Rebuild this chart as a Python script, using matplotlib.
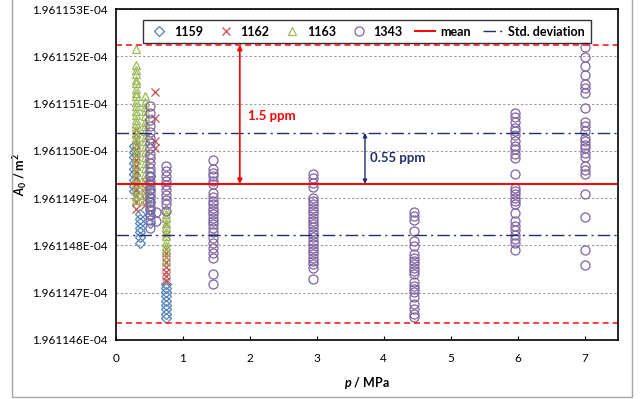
import numpy as np
import matplotlib
matplotlib.use("Agg")
import matplotlib.pyplot as plt
from matplotlib.ticker import FuncFormatter, FixedLocator, MultipleLocator
from matplotlib.patches import Rectangle

plt.rcParams['font.family'] = ['Lato', 'DejaVu Sans']
plt.rcParams['mathtext.fontset'] = 'custom'
plt.rcParams['mathtext.rm'] = 'Lato:bold'
plt.rcParams['mathtext.it'] = 'Lato:italic:bold'

# A0 values in units of 1e-4 m^2, grouped by pressure (MPa)
s1159 = [
    (0.27, [1.96115010, 1.96114998, 1.96114986, 1.96114974, 1.96114962, 1.96114950,
            1.96114938, 1.96114926, 1.96114915]),
    (0.36, [1.96114866, 1.96114856, 1.96114847, 1.96114837, 1.96114828, 1.96114818,
            1.96114805]),
    (0.51, [1.96114946, 1.96114932, 1.96114918, 1.96114905, 1.96114892, 1.96114878,
            1.96114864, 1.96114847]),
    (0.75, [1.96114719, 1.96114710, 1.96114701, 1.96114692, 1.96114683, 1.96114674,
            1.96114665, 1.96114656, 1.96114647]),
]
s1162 = [
    (0.30, [1.96115045, 1.96115035, 1.96115024, 1.96115013, 1.96115002, 1.96114990,
            1.96114980, 1.96114968, 1.96114955, 1.96114942, 1.96114930, 1.96114918,
            1.96114906, 1.96114892, 1.96114878]),
    (0.44, [1.96114935, 1.96114922, 1.96114910, 1.96114898, 1.96114885]),
    (0.59, [1.96115125, 1.96115070, 1.96115020, 1.96115005]),
    (0.75, [1.96114845, 1.96114822, 1.96114793, 1.96114784, 1.96114775, 1.96114764,
            1.96114755, 1.96114744, 1.96114735, 1.96114725]),
]
s1163 = [
    (0.30, [1.96115216, 1.96115182, 1.96115171, 1.96115163, 1.96115150, 1.96115144,
            1.96115131, 1.96115122, 1.96115115, 1.96115103, 1.96115095, 1.96115084,
            1.96115076, 1.96115065, 1.96115057, 1.96115046, 1.96115038, 1.96115027,
            1.96115019, 1.96115005, 1.96114996, 1.96114983, 1.96114971, 1.96114958,
            1.96114944, 1.96114931, 1.96114918, 1.96114905, 1.96114896]),
    (0.44, [1.96115115, 1.96115104, 1.96115093, 1.96115085, 1.96115074, 1.96115062,
            1.96115053, 1.96115041, 1.96115030, 1.96115021, 1.96115008, 1.96114997,
            1.96114986, 1.96114974, 1.96114963, 1.96114951, 1.96114940, 1.96114928,
            1.96114917, 1.96114906, 1.96114895]),
    (0.75, [1.96114878, 1.96114867, 1.96114859, 1.96114848, 1.96114840, 1.96114829,
            1.96114820, 1.96114808, 1.96114799, 1.96114788, 1.96114770]),
]
s1343 = [
    (0.51, [1.96115094, 1.96115080, 1.96115066, 1.96115052, 1.96115040, 1.96115028,
            1.96115016, 1.96115005, 1.96114994, 1.96114984, 1.96114974, 1.96114964,
            1.96114955, 1.96114946, 1.96114937, 1.96114928, 1.96114919, 1.96114910,
            1.96114901, 1.96114892, 1.96114883, 1.96114874, 1.96114864, 1.96114854,
            1.96114837]),
    (0.60, [1.96114870, 1.96114852]),
    (0.75, [1.96114967, 1.96114957, 1.96114947, 1.96114937, 1.96114927, 1.96114917,
            1.96114907, 1.96114897, 1.96114887, 1.96114873]),
    (1.45, [1.96114981, 1.96114961, 1.96114953, 1.96114946, 1.96114937, 1.96114929,
            1.96114911, 1.96114902, 1.96114894, 1.96114887, 1.96114880, 1.96114873,
            1.96114866, 1.96114859, 1.96114852, 1.96114845, 1.96114836, 1.96114829,
            1.96114816, 1.96114806, 1.96114795, 1.96114785, 1.96114774, 1.96114739,
            1.96114718]),
    (2.95, [1.96114951, 1.96114943, 1.96114932, 1.96114923, 1.96114901, 1.96114894,
            1.96114887, 1.96114880, 1.96114873, 1.96114866, 1.96114859, 1.96114852,
            1.96114845, 1.96114838, 1.96114831, 1.96114824, 1.96114817, 1.96114809,
            1.96114802, 1.96114795, 1.96114788, 1.96114781, 1.96114774, 1.96114767,
            1.96114760, 1.96114753, 1.96114730]),
    (4.45, [1.96114871, 1.96114862, 1.96114853, 1.96114831, 1.96114809, 1.96114799,
            1.96114781, 1.96114774, 1.96114767, 1.96114760, 1.96114753, 1.96114746,
            1.96114739, 1.96114722, 1.96114715, 1.96114708, 1.96114701, 1.96114690,
            1.96114676, 1.96114666, 1.96114655, 1.96114648]),
    (5.96, [1.96115080, 1.96115071, 1.96115062, 1.96115049, 1.96115042, 1.96115034,
            1.96115020, 1.96115011, 1.96115003, 1.96114993, 1.96114984, 1.96114950,
            1.96114922, 1.96114915, 1.96114908, 1.96114901, 1.96114894, 1.96114887,
            1.96114869, 1.96114852, 1.96114841, 1.96114832, 1.96114823, 1.96114813,
            1.96114806, 1.96114790]),
    (7.01, [1.96115220, 1.96115199, 1.96115180, 1.96115160, 1.96115141, 1.96115132,
            1.96115122, 1.96115090, 1.96115062, 1.96115052, 1.96115041, 1.96115027,
            1.96115020, 1.96115013, 1.96115006, 1.96114995, 1.96114988, 1.96114967,
            1.96114960, 1.96114950, 1.96114909, 1.96114860, 1.96114790, 1.96114759]),
]

y_ticks = [1.961146e-4, 1.961147e-4, 1.961148e-4, 1.961149e-4,
           1.961150e-4, 1.961151e-4, 1.961152e-4, 1.961153e-4]

mean_A0 = 1.9611493e-4
std_ppm = 0.55
band_ppm = 1.5

series = [
    ("1159", s1159, dict(marker='D', color='#4F81BD', ms=4.6)),
    ("1162", s1162, dict(marker='x', color='#C0504D', ms=6)),
    ("1163", s1163, dict(marker='^', color='#9BBB59', ms=6)),
    ("1343", s1343, dict(marker='o', color='#8064A2', ms=6.5)),
]


def expand(groups):
    p = np.concatenate([np.full(len(v), pr) for pr, v in groups])
    a = np.concatenate([np.array(v) for pr, v in groups]) * 1e-4
    return p, a


fig = plt.figure(figsize=(6.41, 3.99), dpi=100)
ax = fig.add_axes([116 / 641, 1 - 340 / 399, (618 - 116) / 641, (340 - 9) / 399])

fig.patches.append(Rectangle((12 / 641, 2 / 399), 620 / 641, 1.1,
                             transform=fig.transFigure, fill=False,
                             edgecolor='#a6a6a6', lw=1.0))

handles = []
for name, groups, st in series:
    p, a = expand(groups)
    if st['marker'] == 'x':
        h, = ax.plot(p, a, ls='none', marker='x', color=st['color'],
                     ms=st['ms'], mew=0.9, label=name)
    else:
        h, = ax.plot(p, a, ls='none', marker=st['marker'], mfc='none',
                     mec=st['color'], ms=st['ms'], mew=0.9, label=name)
    handles.append(h)

std_abs = mean_A0 * std_ppm * 1e-6
band_abs = mean_A0 * band_ppm * 1e-6

h_mean = ax.axhline(mean_A0, color='#FF0000', lw=1.4, label='mean')
h_std = ax.axhline(mean_A0 + std_abs, color='#1F2F6B', lw=1.0,
                   ls=(0, (9, 3, 1.5, 3)), label='Std. deviation')
ax.axhline(mean_A0 - std_abs, color='#1F2F6B', lw=1.0, ls=(0, (9, 3, 1.5, 3)))
ax.axhline(mean_A0 + band_abs, color='#FF1010', lw=1.1, ls=(0, (4, 2.5)))
ax.axhline(mean_A0 - band_abs, color='#FF1010', lw=1.1, ls=(0, (4, 2.5)))

# arrows with labels
ax.annotate('', xy=(1.85, mean_A0 + band_abs), xytext=(1.85, mean_A0),
            arrowprops=dict(arrowstyle='<|-|>', color='#FF0000', lw=1.2,
                            mutation_scale=7, shrinkA=0, shrinkB=0))
ax.text(1.97, 1.96115073e-4, '1.5 ppm', color='#FF0000', fontsize=9.5,
        fontweight='bold', va='center', ha='left')
ax.annotate('', xy=(3.72, mean_A0 + std_abs), xytext=(3.72, mean_A0),
            arrowprops=dict(arrowstyle='<|-|>', color='#1F2F6B', lw=1.0,
                            mutation_scale=6, shrinkA=0, shrinkB=0))
ax.text(3.80, 1.96114984e-4, '0.55 ppm', color='#1F2F6B', fontsize=9.5,
        fontweight='bold', va='center', ha='left')

ax.set_xlim(0, 7.5)
ax.set_ylim(y_ticks[0], y_ticks[-1])
ax.xaxis.set_major_locator(MultipleLocator(1))
ax.yaxis.set_major_locator(FixedLocator(y_ticks))
ax.yaxis.set_major_formatter(FuncFormatter(lambda v, pos: f"{v:.6E}"))
ax.tick_params(axis='x', direction='in', length=3, pad=9, labelsize=8.5)
ax.tick_params(axis='y', length=0, pad=6, labelsize=8.5)
ax.grid(axis='y', color='#9a9a9a', ls=(0, (2, 2)), lw=0.8)
ax.set_axisbelow(True)
for s in ax.spines.values():
    s.set_linewidth(1.2)
    s.set_color('black')

ax.set_xlabel(r'$p$ / MPa', fontsize=9, fontweight='bold', labelpad=8)
ax.set_ylabel(r'$A_0$ / m$^2$', fontsize=9, fontweight='bold', labelpad=2)

leg = ax.legend(handles + [h_mean, h_std],
                [h.get_label() for h in handles] + ['mean', 'Std. deviation'],
                ncol=6, loc='upper center', bbox_to_anchor=(0.5, 0.985),
                frameon=True, fancybox=False, edgecolor='black',
                handlelength=1.6, handletextpad=0.4, columnspacing=1.0,
                borderpad=0.45, prop={'weight': 'bold', 'size': 9})
leg.get_frame().set_linewidth(1.0)

fig.savefig('out.png', dpi=100)
